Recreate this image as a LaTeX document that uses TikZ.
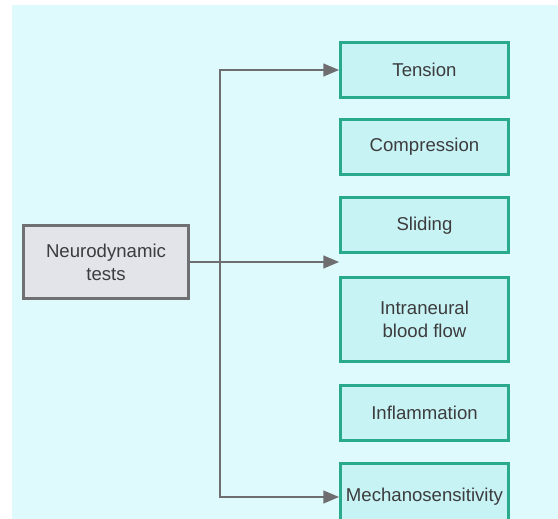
\documentclass[tikz,border=0pt]{standalone}
\usepackage{fontspec}
\setmainfont{Liberation Sans}
\usetikzlibrary{calc}
\usetikzlibrary{arrows}
\usepackage{xcolor}
\definecolor{bgcyan}{RGB}{222,250,252}
\definecolor{boxfill}{RGB}{200,243,244}
\definecolor{boxline}{RGB}{42,170,140}
\definecolor{leftfill}{RGB}{226,228,234}
\definecolor{leftline}{RGB}{112,112,114}
\definecolor{arrgray}{RGB}{110,110,112}
\definecolor{txtgray}{RGB}{60,60,62}

\tikzset{
 effect/.style={draw=boxline, line width=1.5pt, fill=boxfill, minimum width=84pt, minimum height=27.5pt, align=center, text=txtgray, font=\fontsize{9.3}{11.5}\selectfont, inner sep=0pt},
 testbox/.style={draw=leftline, line width=1.5pt, fill=leftfill, minimum width=82.5pt, minimum height=36.5pt, align=center, text=txtgray, font=\fontsize{9.3}{11.5}\selectfont, inner sep=0pt},
 arr/.style={arrgray, line width=0.8pt, ->, >=triangle 45}
}

\begin{document}
\begin{tikzpicture}[x=0.5pt, y=-0.5pt]
\useasboundingbox (0,0) rectangle (558,519);
\fill[bgcyan] (12,5) rectangle (558,519);
% effects of the tests
\node[effect] (tension) at (424.5,70) {Tension};
\node[effect] (compression) at (424.5,147) {Compression};
\node[effect] (sliding) at (424.5,225.5) {Sliding};
\node[effect, minimum height=42pt] (bloodflow) at (424.5,319.5) {Intraneural\\blood flow};
\node[effect] (inflammation) at (424.5,413) {Inflammation};
\node[effect, minimum height=34pt] (mechano) at (424.5,497) {Mechanosensitivity};
\node[testbox] (tests) at (106,262) {Neurodynamic\\tests};
\coordinate (spine) at (220,262);
\draw[arr] (spine) |- (tension.west);
\draw[arr] (spine) |- (mechano.west);
\draw[arr] (tests.east) -- (tests.east -| tension.west);
\end{tikzpicture}
\end{document}
